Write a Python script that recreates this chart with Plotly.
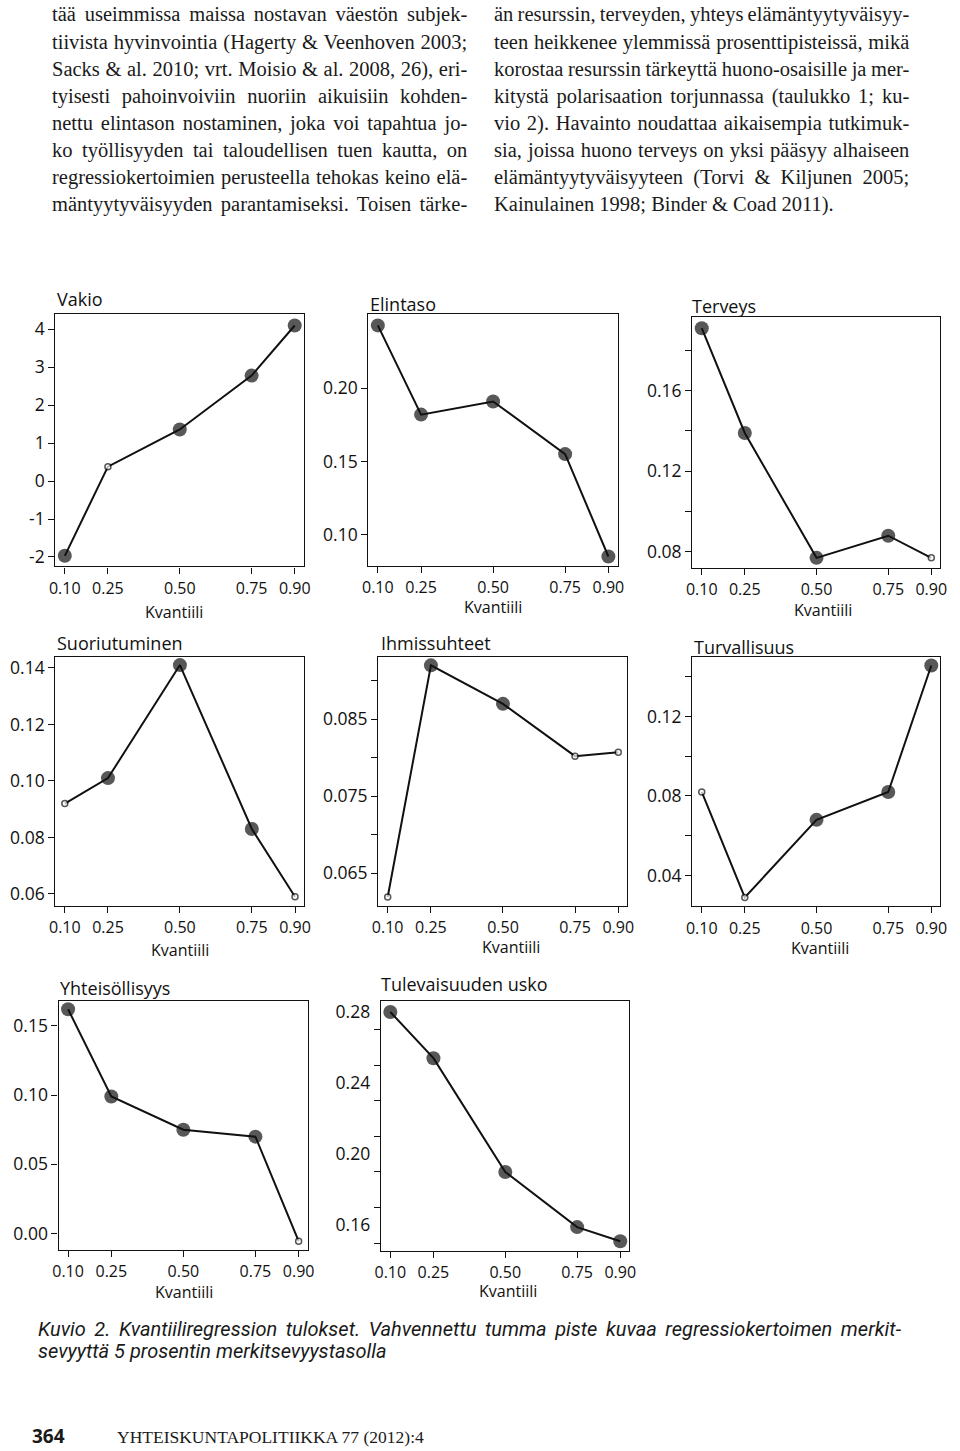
import json
import plotly.graph_objects as go

# ---------------- data ----------------
quantiles = [0.10, 0.25, 0.50, 0.75, 0.90]
quantile_labels = ["0.10", "0.25", "0.50", "0.75", "0.90"]

panel_titles = ["Vakio", "Elintaso", "Terveys", "Suoriutuminen",
                "Ihmissuhteet", "Turvallisuus", "Yhteisöllisyys", "Tulevaisuuden usko"]
x_title = "Kvantiili"

vakio = [-1.97, 0.38, 1.36, 2.78, 4.10]
vakio_sig = [1, 0, 1, 1, 1]
elintaso = [0.243, 0.182, 0.191, 0.155, 0.085]
elintaso_sig = [1, 1, 1, 1, 1]
terveys = [0.191, 0.139, 0.077, 0.088, 0.077]
terveys_sig = [1, 1, 1, 1, 0]
suoriutuminen = [0.092, 0.101, 0.141, 0.083, 0.059]
suoriutuminen_sig = [0, 1, 1, 1, 0]
ihmissuhteet = [0.0619, 0.0920, 0.0870, 0.0802, 0.0807]
ihmissuhteet_sig = [0, 1, 1, 0, 0]
turvallisuus = [0.082, 0.029, 0.068, 0.082, 0.1456]
turvallisuus_sig = [0, 0, 1, 1, 1]
yhteisollisyys = [0.162, 0.099, 0.075, 0.070, -0.0055]
yhteisollisyys_sig = [1, 1, 1, 1, 0]
tulevaisuus = [0.280, 0.254, 0.190, 0.159, 0.151]
tulevaisuus_sig = [1, 1, 1, 1, 1]

# y tick values and labels per panel
vakio_ticks = [-2, -1, 0, 1, 2, 3, 4]
vakio_ticklabels = ["-2", "-1", "0", "1", "2", "3", "4"]
elintaso_ticks = [0.10, 0.15, 0.20]
elintaso_ticklabels = ["0.10", "0.15", "0.20"]
terveys_ticks = [0.08, 0.10, 0.12, 0.14, 0.16, 0.18]
terveys_ticklabels = ["0.08", "", "0.12", "", "0.16", ""]
suoriutuminen_ticks = [0.06, 0.08, 0.10, 0.12, 0.14]
suoriutuminen_ticklabels = ["0.06", "0.08", "0.10", "0.12", "0.14"]
ihmissuhteet_ticks = [0.065, 0.070, 0.075, 0.080, 0.085, 0.090]
ihmissuhteet_ticklabels = ["0.065", "", "0.075", "", "0.085", ""]
turvallisuus_ticks = [0.04, 0.06, 0.08, 0.10, 0.12, 0.14]
turvallisuus_ticklabels = ["0.04", "", "0.08", "", "0.12", ""]
yhteisollisyys_ticks = [0.00, 0.05, 0.10, 0.15]
yhteisollisyys_ticklabels = ["0.00", "0.05", "0.10", "0.15"]
tulevaisuus_ticks = [0.16, 0.20, 0.24, 0.28]
tulevaisuus_ticklabels = ["0.16", "0.20", "0.24", "0.28"]
tulevaisuus_minor_ticks = [0.15, 0.17, 0.19, 0.21, 0.23, 0.25, 0.27]

left_lines = [
    "tää useimmissa maissa nostavan väestön subjek-",
    "tiivista hyvinvointia (Hagerty & Veenhoven 2003;",
    "Sacks & al. 2010; vrt. Moisio & al. 2008, 26), eri-",
    "tyisesti pahoinvoiviin nuoriin aikuisiin kohden-",
    "nettu elintason nostaminen, joka voi tapahtua jo-",
    "ko työllisyyden tai taloudellisen tuen kautta, on",
    "regressiokertoimien perusteella tehokas keino elä-",
    "mäntyytyväisyyden parantamiseksi. Toisen tärke-",
]
right_lines = [
    "än resurssin, terveyden, yhteys elämäntyytyväisyy-",
    "teen heikkenee ylemmissä prosenttipisteissä, mikä",
    "korostaa resurssin tärkeyttä huono-osaisille ja mer-",
    "kitystä polarisaation torjunnassa (taulukko 1; ku-",
    "vio 2). Havainto noudattaa aikaisempia tutkimuk-",
    "sia, joissa huono terveys on yksi pääsyy alhaiseen",
    "elämäntyytyväisyyteen (Torvi & Kiljunen 2005;",
    "Kainulainen 1998; Binder & Coad 2011).",
]
caption_lines = [
    "Kuvio 2. Kvantiiliregression tulokset. Vahvennettu tumma piste kuvaa regressiokertoimen merkit-",
    "sevyyttä 5 prosentin merkitsevyystasolla",
]
page_number = "364"
journal = "YHTEISKUNTAPOLITIIKKA 77 (2012):4"

# ---------------- layout helpers ----------------
W, H = 960, 1451
series = [vakio, elintaso, terveys, suoriutuminen, ihmissuhteet, turvallisuus, yhteisollisyys, tulevaisuus]
sigs = [vakio_sig, elintaso_sig, terveys_sig, suoriutuminen_sig, ihmissuhteet_sig,
        turvallisuus_sig, yhteisollisyys_sig, tulevaisuus_sig]
yticks = [vakio_ticks, elintaso_ticks, terveys_ticks, suoriutuminen_ticks, ihmissuhteet_ticks,
          turvallisuus_ticks, yhteisollisyys_ticks, tulevaisuus_ticks]
ylabels = [vakio_ticklabels, elintaso_ticklabels, terveys_ticklabels, suoriutuminen_ticklabels,
           ihmissuhteet_ticklabels, turvallisuus_ticklabels, yhteisollisyys_ticklabels,
           tulevaisuus_ticklabels]
yranges = [(-2.25, 4.40), (0.0784, 0.2505), (0.0721, 0.1965), (0.0559, 0.1439),
           (0.0608, 0.0931), (0.0246, 0.1499), (-0.0115, 0.168), (0.1458, 0.2862)]
boxes = [(50, 302, 313, 566), (367.3, 620, 313.3, 565.7), (695.7, 947.3, 316, 567.3),
         (50, 302.3, 656.7, 906), (377.3, 630, 656.7, 906), (695.7, 947.3, 656.7, 906.7),
         (53.3, 306, 1001.7, 1251), (380, 632, 1001.7, 1252)]
title_dx = [0, 0, -2.7, 0, 1, 0, -0.6, -1.7]
title_dy = [15, 10, 11, 14, 13.4, 9.4, 13.4, 16.7]
xt_dx = [-5.3, 0, 6.5, 0, 8.6, 4, 1, 3]
xt_dy = [45.7, 41, 42, 44, 41, 41.6, 42.3, 40]

SANS = "Open Sans, Noto Sans, sans-serif"
SERIF = "Liberation Serif, DejaVu Serif, serif"
INK = "#111111"
TEXT_TOP = 13.0
LINE_STEP = 27.2
COL_WIDTH = 415.3

fig = go.Figure()
layout = dict(width=W, height=H, margin=dict(l=0, r=0, t=0, b=0),
              paper_bgcolor="white", plot_bgcolor="white", showlegend=False)
annotations = []

for i in range(8):
    n = "" if i == 0 else str(i + 1)
    x0, x1, y0, y1 = boxes[i]
    xa = dict(domain=[x0 / W, x1 / W], anchor="y" + n, range=[0.067, 0.932],
              tickvals=quantiles, ticktext=quantile_labels, ticks="outside", ticklen=6,
              tickwidth=1.2, tickcolor=INK, showline=True, mirror=True, linecolor=INK,
              linewidth=1.3, showgrid=False, zeroline=False, ticklabelstandoff=1,
              tickfont=dict(family=SANS, size=16, color=INK), fixedrange=True)
    ya = dict(domain=[1 - y1 / H, 1 - y0 / H], anchor="x" + n, range=list(yranges[i]),
              tickvals=yticks[i], ticktext=ylabels[i], ticks="outside", ticklen=6,
              tickwidth=1.2, tickcolor=INK, showline=True, mirror=True, linecolor=INK,
              linewidth=1.3, showgrid=False, zeroline=False,
              tickfont=dict(family=SANS, size=17.5, color=INK), fixedrange=True)
    if i == 7:
        ya["ticklen"] = 0
        ya["ticklabelstandoff"] = 6
        ya["minor"] = dict(tickvals=tulevaisuus_minor_ticks, ticks="outside", ticklen=6,
                           tickwidth=1.2, tickcolor=INK)
    layout["xaxis" + n] = xa
    layout["yaxis" + n] = ya

    sig = sigs[i]
    fig.add_trace(go.Scatter(
        x=quantiles, y=series[i], mode="lines+markers", xaxis="x" + n, yaxis="y" + n,
        line=dict(color=INK, width=2),
        marker=dict(size=[14 if s else 6 for s in sig],
                    color=[INK if s else "white" for s in sig],
                    line=dict(color=INK, width=[0 if s else 1.5 for s in sig])),
        cliponaxis=False, hoverinfo="x+y"))

    annotations.append(dict(text=panel_titles[i], xref="x" + n + " domain", yref="y" + n + " domain",
                            x=0, y=1, xanchor="left", yanchor="middle", align="left",
                            xshift=title_dx[i], yshift=title_dy[i], showarrow=False,
                            font=dict(family=SANS, size=18, color=INK)))
    annotations.append(dict(text=x_title, xref="x" + n + " domain", yref="y" + n + " domain",
                            x=0.5, y=0, xanchor="center", yanchor="middle", xshift=xt_dx[i],
                            yshift=-xt_dy[i], showarrow=False,
                            font=dict(family=SANS, size=16, color=INK)))

# body text
for k, line in enumerate(left_lines):
    annotations.append(dict(text=line, xref="paper", yref="paper", x=45 / W,
                            y=1 - (TEXT_TOP + LINE_STEP * k) / H, xanchor="left", yanchor="middle",
                            align="left", showarrow=False,
                            font=dict(family=SERIF, size=20.5, color="#1a1a1a")))
for k, line in enumerate(right_lines):
    annotations.append(dict(text=line, xref="paper", yref="paper", x=492.7 / W,
                            y=1 - (TEXT_TOP + LINE_STEP * k) / H, xanchor="left", yanchor="middle",
                            align="left", showarrow=False,
                            font=dict(family=SERIF, size=20.5, color="#1a1a1a")))

# caption
for k, line in enumerate(caption_lines):
    annotations.append(dict(text=line, xref="paper", yref="paper", x=30 / W,
                            y=1 - (1331 + 22 * k) / H, xanchor="left", yanchor="middle",
                            align="left", showarrow=False,
                            font=dict(family="Roboto, Open Sans, sans-serif", size=20,
                                      color="#1a1a1a", style="italic")))

annotations.append(dict(text="<b>" + page_number + "</b>", xref="paper", yref="paper", x=24 / W,
                        y=1 - 1438 / H, xanchor="left", yanchor="middle", align="left",
                        showarrow=False, font=dict(family=SANS, size=19, color="#1a1a1a")))
annotations.append(dict(text=journal, xref="paper", yref="paper", x=111 / W,
                        y=1 - 1439 / H, xanchor="left", yanchor="middle", align="left",
                        showarrow=False, font=dict(family=SERIF, size=17.5, color="#1a1a1a")))

layout["annotations"] = annotations
fig.update_layout(**layout)

# justify full text lines (word spacing) after render
justify = {}
for line in left_lines:
    justify[line] = COL_WIDTH
for line in right_lines[:-1]:
    justify[line] = COL_WIDTH
justify[caption_lines[0]] = 863

post = """
document.body.style.margin = '0';
document.body.style.overflow = 'hidden';
var gd = document.getElementById('{plot_id}');
var J = %s;
gd.querySelectorAll('text.annotation-text').forEach(function(t){
  var s = t.getAttribute('data-unformatted');
  if (s && J.hasOwnProperty(s)) {
    var n = (s.match(/ /g) || []).length;
    var w = t.getComputedTextLength();
    if (n > 0) { t.style.wordSpacing = ((J[s] - w) / n) + 'px'; }
  }
});
""" % json.dumps(justify)

fig.write_html("out.html", post_script=post, config={"displayModeBar": False})
